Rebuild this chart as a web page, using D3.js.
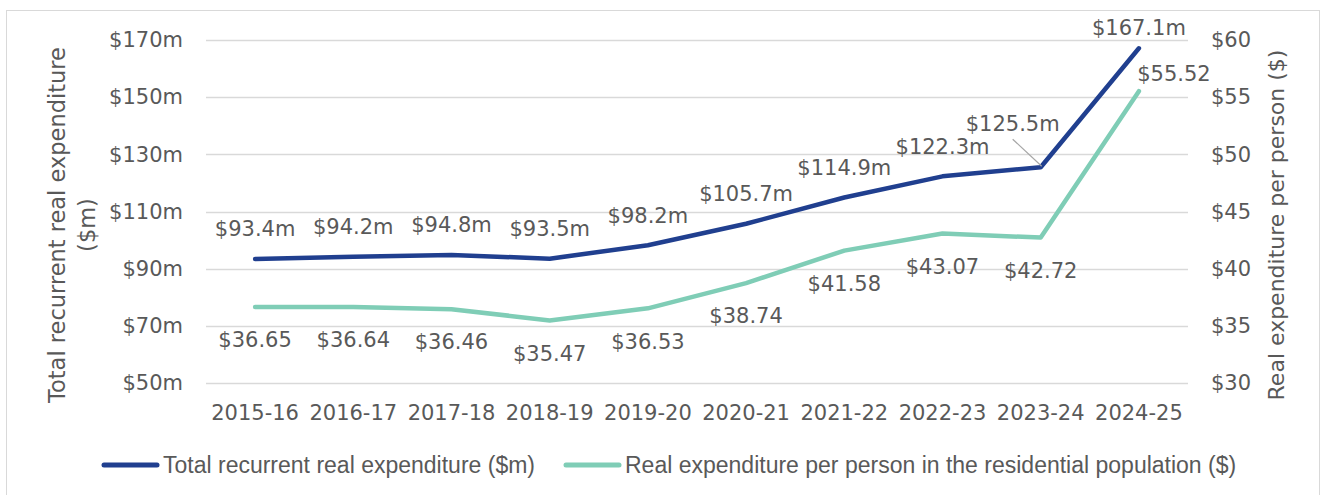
<!DOCTYPE html>
<html><head><meta charset="utf-8">
<script src="https://cdn.jsdelivr.net/npm/d3@7"></script>
<style>
html,body{margin:0;padding:0;background:#fff;}
svg{display:block;}
</style></head>
<body>
<svg id="chart" width="1326" height="495"></svg>
<script>
const categories = ["2015-16","2016-17","2017-18","2018-19","2019-20","2020-21","2021-22","2022-23","2023-24","2024-25"];
const totalExpenditure = [93.4, 94.2, 94.8, 93.5, 98.2, 105.7, 114.9, 122.3, 125.5, 167.1];
const perPerson = [36.65, 36.64, 36.46, 35.47, 36.53, 38.74, 41.58, 43.07, 42.72, 55.52];
const leftTicks = [50, 70, 90, 110, 130, 150, 170];
const rightTicks = [30, 35, 40, 45, 50, 55, 60];
const seriesNames = ["Total recurrent real expenditure ($m)", "Real expenditure per person in the residential population ($)"];

const svg = d3.select("#chart");
const W = 1326, H = 495;
const m = {left: 206, right: 1188, top: 40, bottom: 383};
const textColor = "#595959";
const numFont = "'DejaVu Sans', sans-serif";
const numSize = 21;
const colors = ["#203F8F", "#7FCDB6"];

svg.append("rect").attr("x", 6.5).attr("y", 10.5).attr("width", W - 13).attr("height", H - 10)
  .attr("fill", "#fff").attr("stroke", "#d9d9d9").attr("stroke-width", 1);

const x = d3.scaleBand().domain(categories).range([m.left, m.right]).padding(0);
const yL = d3.scaleLinear().domain([50, 170]).range([m.bottom, m.top]);
const yR = d3.scaleLinear().domain([30, 60]).range([m.bottom, m.top]);
const cx = d => x(d) + x.bandwidth() / 2;

// gridlines
svg.append("g").selectAll("line").data(leftTicks).join("line")
  .attr("x1", m.left).attr("x2", m.right)
  .attr("y1", d => Math.round(yL(d)) + 0.5).attr("y2", d => Math.round(yL(d)) + 0.5)
  .attr("stroke", "#d9d9d9").attr("stroke-width", 1.3);

// left axis
const axL = svg.append("g").attr("transform", `translate(${m.left - 23},0)`)
  .call(d3.axisLeft(yL).tickValues(leftTicks).tickSize(0).tickPadding(0).tickFormat(d => "$" + d + "m"));
axL.select(".domain").remove();
axL.selectAll("text").attr("font-family", numFont).attr("font-size", numSize).attr("fill", textColor);

// right axis
const axR = svg.append("g").attr("transform", `translate(${m.right + 23},0)`)
  .call(d3.axisRight(yR).tickValues(rightTicks).tickSize(0).tickPadding(0).tickFormat(d => "$" + d));
axR.select(".domain").remove();
axR.selectAll("text").attr("font-family", numFont).attr("font-size", numSize).attr("fill", textColor);

// x axis
const axX = svg.append("g").attr("transform", `translate(0,413)`)
  .call(d3.axisBottom(x).tickSize(0).tickPadding(0));
axX.select(".domain").remove();
axX.selectAll("text").attr("font-family", numFont).attr("font-size", numSize).attr("fill", textColor).attr("dy", "0.35em");

// axis titles
const tl = svg.append("text").attr("transform", `translate(57,225) rotate(-90)`)
  .attr("text-anchor", "middle").attr("font-family", numFont).attr("font-size", 22.5).attr("fill", textColor);
tl.append("tspan").attr("x", 0).attr("dy", "0.35em").text("Total recurrent real expenditure");
tl.append("tspan").attr("x", 0).attr("dy", "1.35em").text("($m)");
svg.append("text").attr("transform", `translate(1276,225) rotate(-90)`)
  .attr("text-anchor", "middle").attr("dy", "0.35em").attr("font-family", numFont).attr("font-size", 22)
  .attr("fill", textColor).text("Real expenditure per person ($)");

// lines
const lineL = d3.line().x((d, i) => cx(categories[i])).y(d => yL(d));
const lineR = d3.line().x((d, i) => cx(categories[i])).y(d => yR(d));
svg.append("path").datum(perPerson).attr("d", lineR).attr("fill", "none")
  .attr("stroke", colors[1]).attr("stroke-width", 4.5).attr("stroke-linejoin", "round").attr("stroke-linecap", "round");
svg.append("path").datum(totalExpenditure).attr("d", lineL).attr("fill", "none")
  .attr("stroke", colors[0]).attr("stroke-width", 4.5).attr("stroke-linejoin", "round").attr("stroke-linecap", "round");

// labels for total (above)
totalExpenditure.forEach((v, i) => {
  let lx = cx(categories[i]), ly = yL(v) - 30;
  if (i === 8) {
    lx = cx(categories[i]) - 28; ly = yL(v) - 44;
    svg.append("line").attr("x1", lx).attr("y1", ly + 16).attr("x2", cx(categories[i]) + 1).attr("y2", yL(v) - 1)
      .attr("stroke", "#a6a6a6").attr("stroke-width", 1.2);
  }
  if (i === 9) { ly = yL(v) - 21; }
  svg.append("text").attr("x", lx).attr("y", ly).attr("dy", "0.35em").attr("text-anchor", "middle")
    .attr("font-family", numFont).attr("font-size", numSize).attr("fill", textColor)
    .text("$" + v.toFixed(1) + "m");
});
// labels for per-person (below)
perPerson.forEach((v, i) => {
  let lx = cx(categories[i]), ly = yR(v) + 33;
  if (i === 9) { lx = cx(categories[i]) + 35; ly = yR(v) - 18; }
  svg.append("text").attr("x", lx).attr("y", ly).attr("dy", "0.35em").attr("text-anchor", "middle")
    .attr("font-family", numFont).attr("font-size", numSize).attr("fill", textColor)
    .text("$" + v.toFixed(2));
});

// legend
const legFont = "'Liberation Sans', sans-serif";
const legend = [{x: 102, x2: 159, tx: 163}, {x: 564, x2: 621, tx: 625}];
legend.forEach((l, i) => {
  svg.append("line").attr("x1", l.x + 2).attr("x2", l.x2 - 2).attr("y1", 465).attr("y2", 465)
    .attr("stroke", colors[i]).attr("stroke-width", 5).attr("stroke-linecap", "round");
  svg.append("text").attr("x", l.tx).attr("y", 465).attr("dy", "0.35em")
    .attr("font-family", legFont).attr("font-size", 23).attr("fill", textColor).text(seriesNames[i]);
});
</script>
</body></html>
